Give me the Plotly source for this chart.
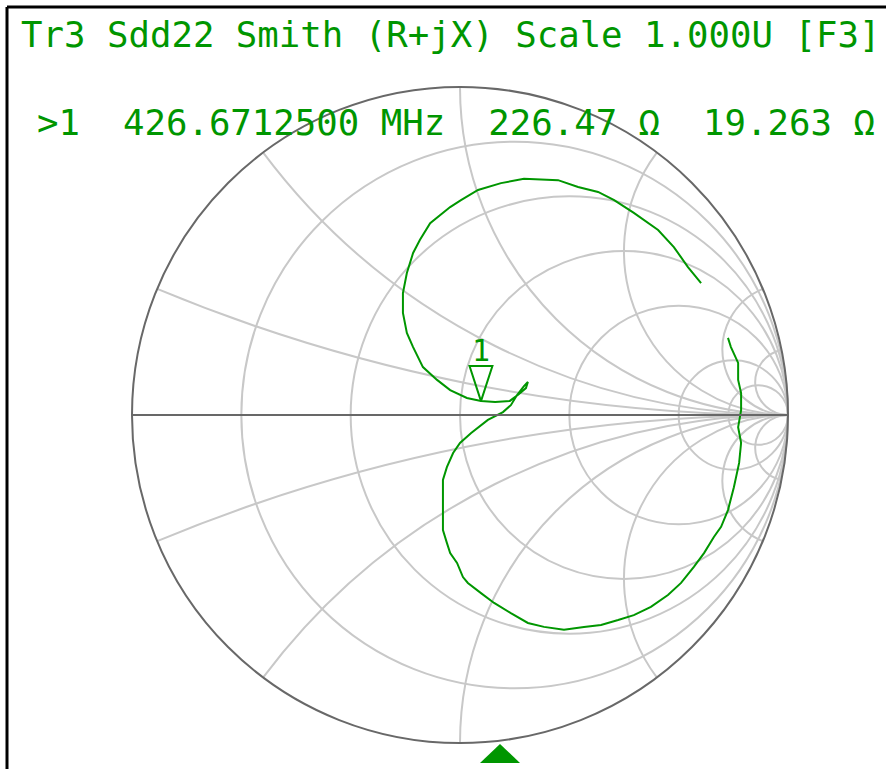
import numpy as np
import plotly.graph_objects as go

s22_re = [0.817, 0.826, 0.848, 0.848, 0.857, 0.857, 0.848, 0.857, 0.851, 0.835,
          0.817, 0.796, 0.774, 0.744, 0.713, 0.674, 0.634, 0.582, 0.530, 0.482,
          0.430, 0.378, 0.317, 0.256, 0.207, 0.155, 0.104, 0.064, 0.024, 0.009,
          -0.009, -0.030, -0.040, -0.052, -0.052, -0.052, -0.040, -0.021, 0.000, 0.034,
          0.085, 0.131, 0.155, 0.174, 0.195, 0.207, 0.201, 0.180, 0.152, 0.107,
          0.064, 0.021, -0.030, -0.070, -0.113, -0.143, -0.162, -0.174, -0.174, -0.162,
          -0.143, -0.122, -0.091, -0.030, 0.003, 0.055, 0.125, 0.195, 0.299, 0.360,
          0.421, 0.470, 0.530, 0.604, 0.652, 0.695, 0.735]
s22_im = [0.235, 0.207, 0.159, 0.107, 0.067, 0.015, -0.037, -0.085, -0.146, -0.220,
          -0.290, -0.341, -0.372, -0.421, -0.463, -0.512, -0.549, -0.585, -0.610, -0.625,
          -0.640, -0.646, -0.655, -0.646, -0.634, -0.604, -0.573, -0.543, -0.512, -0.494,
          -0.451, -0.421, -0.390, -0.351, -0.274, -0.198, -0.159, -0.116, -0.085, -0.055,
          -0.015, 0.009, 0.030, 0.061, 0.088, 0.101, 0.082, 0.064, 0.043, 0.040,
          0.043, 0.052, 0.076, 0.107, 0.146, 0.207, 0.250, 0.311, 0.372, 0.433,
          0.494, 0.534, 0.585, 0.634, 0.655, 0.686, 0.707, 0.720, 0.716, 0.695,
          0.680, 0.655, 0.616, 0.564, 0.512, 0.451, 0.402]

# marker 1: 426.6712500 MHz, 226.47 + j19.263 ohm, reference impedance 200 ohm
marker_label = ["1"]
marker_r_ohm = [226.47]
marker_x_ohm = [19.263]
z0_ohm = 200.0

real_ticks = [0.2, 0.5, 1, 2, 5, 10]
imag_ticks = [-10, -5, -2, -1, -0.5, -0.2, 0.2, 0.5, 1, 2, 5, 10]

title_line = "Tr3 Sdd22 Smith (R+jX) Scale 1.000U [F3]"
marker_line = ">1  426.6712500 MHz  226.47 \u03a9  19.263 \u03a9"

GREEN = "#009600"
GRID = "#c8c8c8"
AXIS = "#686868"
MONO = "DejaVu Sans Mono"

gamma = np.array(s22_re) + 1j * np.array(s22_im)
z = (1 + gamma) / (1 - gamma)
zm = (np.array(marker_r_ohm) + 1j * np.array(marker_x_ohm)) / z0_ohm

fig = go.Figure()
fig.add_trace(go.Scattersmith(real=z.real, imag=z.imag, mode="lines",
                              line=dict(color=GREEN, width=2), hoverinfo="skip"))
# marker arrow (tip on the trace point)
fig.add_trace(go.Scattersmith(real=zm.real, imag=zm.imag, mode="markers",
                              marker=dict(symbol="arrow-open", angle=180, size=37,
                                          color=GREEN, line=dict(color=GREEN, width=2)),
                              hoverinfo="skip"))
# marker number above the arrow
fig.add_trace(go.Scattersmith(real=zm.real, imag=zm.imag, mode="markers+text",
                              text=marker_label, textposition="top center",
                              textfont=dict(family=MONO, size=30, color=GREEN),
                              marker=dict(size=50, color="rgba(0,0,0,0)"),
                              hoverinfo="skip"))

W, H = 886, 769
axis_common = dict(showticklabels=False, ticks="", gridcolor=GRID, gridwidth=2,
                   linecolor=AXIS, linewidth=2, showline=True)
fig.update_layout(
    width=W, height=H, margin=dict(l=0, r=0, t=0, b=0),
    paper_bgcolor="white", showlegend=False,
    smith=dict(
        domain=dict(x=[132 / W, 788 / W], y=[1 - 743 / H, 1 - 87 / H]),
        bgcolor="white",
        realaxis=dict(tickvals=real_ticks, **axis_common),
        imaginaryaxis=dict(tickvals=imag_ticks, **axis_common),
    ),
    annotations=[
        dict(text=title_line, xref="paper", yref="paper", x=19 / W, y=1 - 34.5 / H,
             xanchor="left", yanchor="middle", showarrow=False,
             font=dict(family=MONO, size=35.7, color=GREEN)),
        dict(text=marker_line, xref="paper", yref="paper", x=35 / W, y=1 - 122.5 / H,
             xanchor="left", yanchor="middle", showarrow=False,
             font=dict(family=MONO, size=35.7, color=GREEN)),
    ],
    shapes=[
        dict(type="line", xref="paper", yref="paper", x0=7 / W, x1=1, y0=1 - 7 / H, y1=1 - 7 / H,
             line=dict(color="black", width=3)),
        dict(type="line", xref="paper", yref="paper", x0=7 / W, x1=7 / W, y0=0, y1=1 - 7 / H,
             line=dict(color="black", width=3)),
        dict(type="path", xref="paper", yref="paper",
             path=f"M {480 / W} {1 - 763 / H} L {520 / W} {1 - 763 / H} L {500 / W} {1 - 744 / H} Z",
             fillcolor=GREEN, line=dict(width=0)),
    ],
)
fig.write_html("out.html", config={"displayModeBar": False},
               post_script="document.body.style.margin='0';document.body.style.overflow='hidden';")
